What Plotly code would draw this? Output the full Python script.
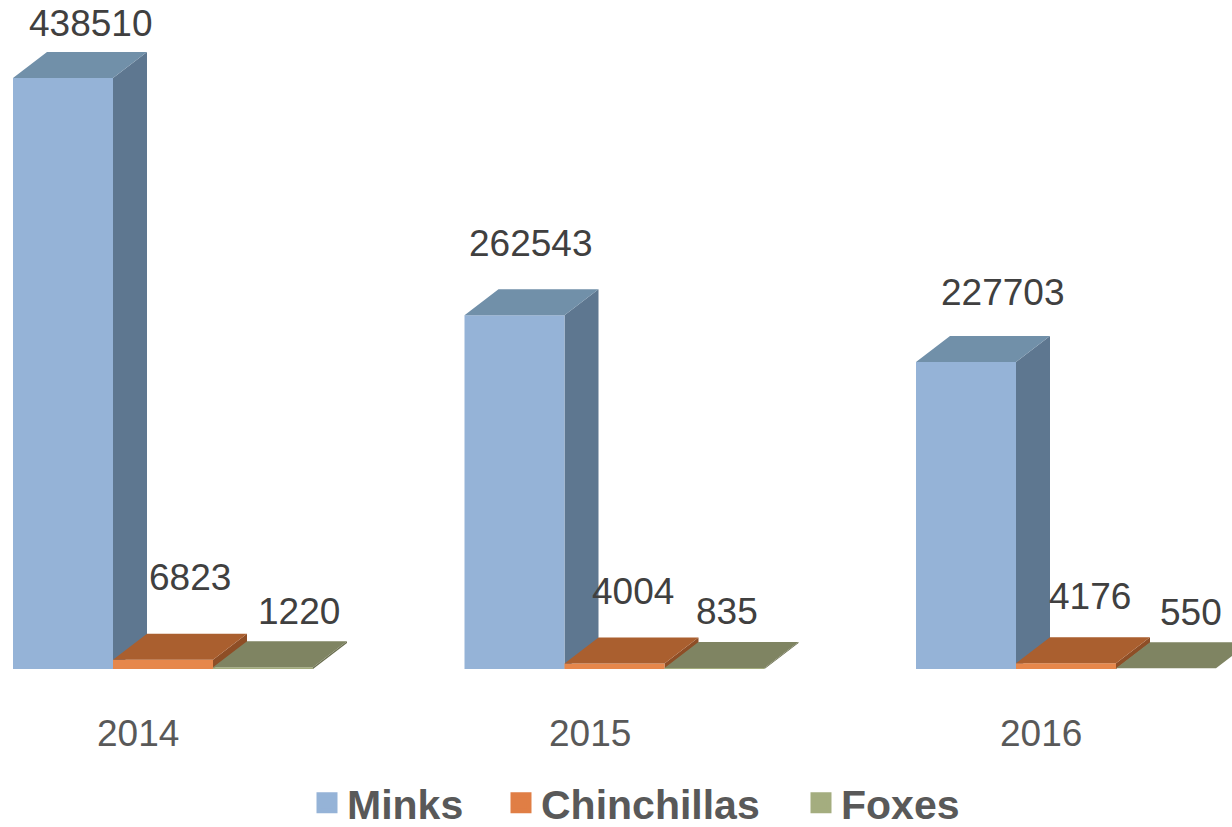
import plotly.graph_objects as go

# ---------------- data ----------------
years = ["2014", "2015", "2016"]
series_names = ["Minks", "Chinchillas", "Foxes"]
minks = [438510, 262543, 227703]
chinchillas = [6823, 4004, 4176]
foxes = [1220, 835, 550]
series_values = [minks, chinchillas, foxes]

# ---------------- style ----------------
FRONT = ["#95B3D7", "#E6874B", "#A3AC7C"]
TOP = ["#7190A9", "#AA5F2F", "#7F8462"]
SIDE = ["#5E7790", "#8E4E26", "#6B6F50"]
LEGEND_COL = ["#95B3D7", "#E07E45", "#A4AD7F"]
LEGEND_X_PX = [307, 501, 801]   # left edge of each legend box, px
LEGEND_Y_PX = 803
GROUP_STRIDE = 4.515          # distance between groups, in bar widths
DX = 0.34                     # depth offset, in bar widths
DY = 19291                    # depth offset, in value units
Y_RANGE = [-117233, 496387]
X_RANGE = [-0.13, 12.19]
W, H = 1232, 827
# label offsets in pixels (relative to top-back centre of each bar)
LABEL_XSHIFT = [[-7, -7, 2], [-18, -16, -22], [2, -10, -9]]
LABEL_YSHIFT = [[29, 56, 30], [46, 46, 30], [44, 41, 30]]
FONT = "Liberation Sans, Arial, sans-serif"

fig = go.Figure()


def poly_trace(xs, ys, color):
    return go.Scatter(x=xs, y=ys, mode="lines", fill="toself",
                      fillcolor=color, line=dict(width=0, color=color),
                      hoverinfo="skip", showlegend=False)


for si, vals in enumerate(series_values):
    fx, fy, tx, ty, sx, sy = [], [], [], [], [], []
    for gi, v in enumerate(vals):
        xl = gi * GROUP_STRIDE + si
        xr = xl + 1
        fx += [xl, xr, xr, xl, xl, None]
        fy += [0, 0, v, v, 0, None]
        tx += [xl, xr, xr + DX, xl + DX, xl, None]
        ty += [v, v, v + DY, v + DY, v, None]
        sx += [xr, xr + DX, xr + DX, xr, xr, None]
        sy += [0, DY, v + DY, v, 0, None]
    fig.add_trace(poly_trace(sx, sy, SIDE[si]))
    fig.add_trace(poly_trace(fx, fy, FRONT[si]))
    fig.add_trace(poly_trace(tx, ty, TOP[si]))

# legend entries (one legend box per series so each sits where the reference puts it)
legend_ids = ["legend", "legend2", "legend3"]
for si, name in enumerate(series_names):
    fig.add_trace(go.Scatter(
        x=[None], y=[None], mode="markers", name=name,
        legend=legend_ids[si],
        marker=dict(symbol="square", size=16, color=LEGEND_COL[si],
                    line=dict(color=LEGEND_COL[si], width=5))))

annotations = []
for si, vals in enumerate(series_values):
    for gi, v in enumerate(vals):
        xl = gi * GROUP_STRIDE + si
        annotations.append(dict(
            x=xl + 0.5 + DX, y=v + DY, xref="x", yref="y",
            text=str(v), showarrow=False, xanchor="center", yanchor="middle",
            xshift=LABEL_XSHIFT[gi][si], yshift=LABEL_YSHIFT[gi][si],
            font=dict(family=FONT, size=37, color="#404040")))

for gi, yr in enumerate(years):
    annotations.append(dict(
        x=gi * GROUP_STRIDE + 1.5, y=0, xref="x", yref="y",
        text=yr, showarrow=False, xanchor="center", yanchor="middle",
        xshift=-25, yshift=-64,
        font=dict(family=FONT, size=37, color="#595959")))

legend_style = dict(orientation="h", xanchor="left", y=1 - LEGEND_Y_PX / H,
                    yanchor="middle",
                    font=dict(family=FONT, size=41, color="#595959",
                              weight="bold"),
                    bgcolor="rgba(0,0,0,0)")
legends = {lid: dict(legend_style, x=LEGEND_X_PX[i] / W)
           for i, lid in enumerate(legend_ids)}

fig.update_layout(
    width=W, height=H,
    margin=dict(l=0, r=0, t=0, b=0, pad=0, autoexpand=False),
    paper_bgcolor="white", plot_bgcolor="white",
    xaxis=dict(range=X_RANGE, visible=False, fixedrange=True),
    yaxis=dict(range=Y_RANGE, visible=False, fixedrange=True),
    showlegend=True,
    annotations=annotations,
    **legends,
)

fig.write_html("out.html", config={"displayModeBar": False},
               post_script="document.body.style.margin='0';")
